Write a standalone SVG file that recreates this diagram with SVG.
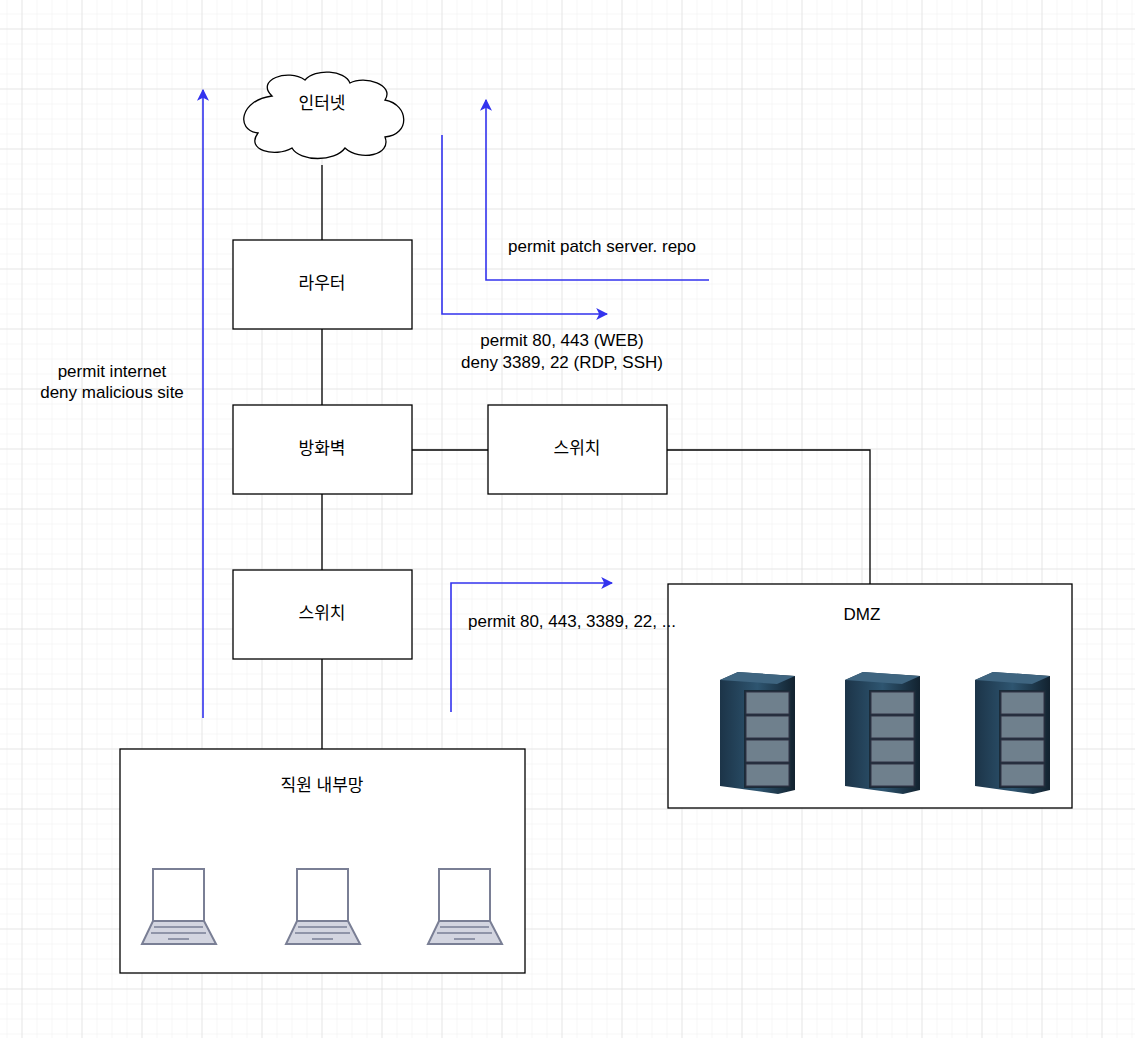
<svg xmlns="http://www.w3.org/2000/svg" width="1135" height="1038" viewBox="0 0 1135 1038">
<style>
.b{fill:#fff;stroke:#000;stroke-width:1.3}
.t{font-family:"Liberation Sans","Noto Sans CJK KR",sans-serif;font-size:17px;fill:#000}
.c{text-anchor:middle}
.k{stroke:#000;stroke-width:1.3;fill:none}
.a{stroke:#3333ee;stroke-width:1.6;fill:none;marker-end:url(#ah)}
</style>
<defs>
<pattern id="gm" width="15" height="15" patternUnits="userSpaceOnUse" x="21.5" y="28.5"><path d="M0 0H15M0 0V15" stroke="#efefef" stroke-width="1" fill="none"/></pattern>
<pattern id="gM" width="60" height="60" patternUnits="userSpaceOnUse" x="21.5" y="28.5"><path d="M0 0H60M0 0V60" stroke="#d8d8d8" stroke-width="1" fill="none"/></pattern>
<marker id="ah" viewBox="0 0 10 10" refX="9" refY="5" markerWidth="12" markerHeight="12" orient="auto" markerUnits="userSpaceOnUse"><path d="M0 0L10 5L0 10L2.5 5Z" fill="#3333ee"/></marker>
<linearGradient id="sv" x1="0" x2="1"><stop offset="0" stop-color="#1c3448"/><stop offset="0.5" stop-color="#2e5570"/><stop offset="1" stop-color="#12222f"/></linearGradient>
<g id="server">
<path d="M0 8L18 0L75 4L75 118L58 122L0 114Z" fill="url(#sv)"/>
<path d="M0 8L18 0L75 4L57 12Z" fill="#3f6580"/>
<rect x="24" y="18" width="47" height="98" fill="#1a2b38"/>
<g fill="#6f808d" stroke="#334" stroke-width="1"><rect x="26" y="20" width="43" height="22"/><rect x="26" y="44" width="43" height="22"/><rect x="26" y="68" width="43" height="22"/><rect x="26" y="92" width="43" height="22"/></g>
</g>
<g id="laptop">
<rect x="12" y="1" width="51" height="52" fill="#fff" stroke="#7a7f95" stroke-width="2"/>
<path d="M12 53L63 53L75 76L1 76Z" fill="#d3d5e0" stroke="#7a7f95" stroke-width="2"/>
<path d="M13 59H62M10 65H65M27 71H48" stroke="#7a7f95" stroke-width="1.6"/>
</g>
</defs>
<rect width="1135" height="1038" fill="#fff"/>
<rect width="1135" height="1038" fill="url(#gm)"/>
<rect width="1135" height="1038" fill="url(#gM)"/>
<g id="connectors">
<path class="k" d="M322 165V240M322 329V405M322 494V570M322 659V749M412 450H488M667 450H870V584"/>
<path class="a" d="M203 718V90"/>
<path class="a" d="M442 135V314H607"/>
<path class="a" d="M709 280H486V100"/>
<path class="a" d="M451 712V583H612"/>
</g>
<g id="internet"><path class="b" d="M272 96C255 80 288 68 305 80C315 68 345 70 350 83C365 75 395 85 385 100C410 105 410 135 385 137C392 155 360 162 345 148C335 162 300 162 292 148C275 158 245 150 258 133C235 130 240 100 272 96Z"/><text class="t c" x="322" y="109">인터넷</text></g>
<g id="router"><rect class="b" x="233" y="240" width="179" height="89"/><text class="t c" x="322" y="289">라우터</text></g>
<g id="firewall"><rect class="b" x="233" y="405" width="179" height="89"/><text class="t c" x="322" y="454">방화벽</text></g>
<g id="switch1"><rect class="b" x="233" y="570" width="179" height="89"/><text class="t c" x="322" y="619">스위치</text></g>
<g id="switch2"><rect class="b" x="488" y="405" width="179" height="89"/><text class="t c" x="577" y="454">스위치</text></g>
<g id="dmz"><rect class="b" x="668" y="584" width="404" height="224"/><text class="t c" x="862" y="620">DMZ</text>
<use href="#server" x="720" y="672"/><use href="#server" x="845" y="672"/><use href="#server" x="975" y="672"/></g>
<g id="internal"><rect class="b" x="120" y="749" width="405" height="224"/><text class="t c" x="322" y="791">직원 내부망</text>
<use href="#laptop" x="141" y="868"/><use href="#laptop" x="285" y="868"/><use href="#laptop" x="427" y="868"/></g>
<g id="labels">
<text class="t" x="508" y="252">permit patch server. repo</text>
<text class="t c" x="562" y="346">permit 80, 443 (WEB)</text>
<text class="t c" x="562" y="368">deny 3389, 22 (RDP, SSH)</text>
<text class="t c" x="112" y="377">permit internet</text>
<text class="t c" x="112" y="398">deny malicious site</text>
<text class="t" x="468" y="627">permit 80, 443, 3389, 22, ...</text>
</g>
</svg>
